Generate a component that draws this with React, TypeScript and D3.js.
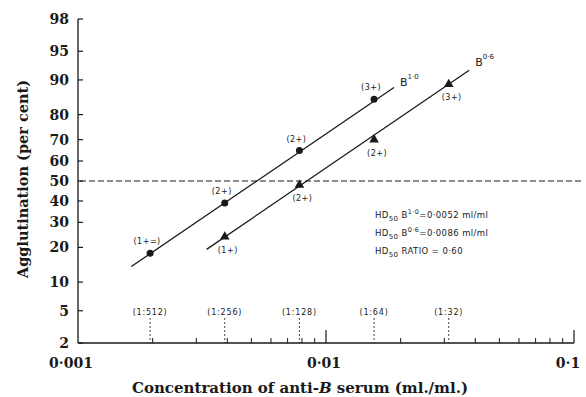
import React from "react";
import * as d3 from "d3";

// agglutination data
const concB10 = [1 / 512, 1 / 256, 1 / 128, 1 / 64];
const pctB10 = [18, 39, 65, 85];
const gradeB10 = ["(1+=)", "(2+)", "(2+)", "(3+)"];
const concB06 = [1 / 256, 1 / 128, 1 / 64, 1 / 32];
const pctB06 = [24, 48, 70, 89];
const gradeB06 = ["(1+)", "(2+)", "(2+)", "(3+)"];
// fitted lines (start, end)
const fitConcB10 = [0.00164, 0.0188];
const fitPctB10 = [13.9, 88.2];
const fitConcB06 = [0.0033, 0.0378];
const fitPctB06 = [19.3, 92];

const yTicks = [2, 5, 10, 20, 30, 40, 50, 60, 70, 80, 90, 95, 98];
const xMajor = [0.001, 0.01, 0.1];
const xMajorLabels = ["0·001", "0·01", "0·1"];
const dilutions = [1 / 512, 1 / 256, 1 / 128, 1 / 64, 1 / 32];
const dilutionLabels = ["(1:512)", "(1:256)", "(1:128)", "(1:64)", "(1:32)"];
const hdLines = [
  { sup: "1·0", rest: "=0·0052 ml/ml", lab: "B" },
  { sup: "0·6", rest: "=0·0086 ml/ml", lab: "B" },
  { sup: "", rest: "RATIO = 0·60", lab: "" },
];

// inverse normal CDF (Acklam), used as the probit axis transform
function probit(p: number) {
  const a = [-39.69683028665376, 220.9460984245205, -275.9285104469687, 138.357751867269, -30.66479806614716, 2.506628277459239];
  const b = [-54.47609879822406, 161.5858368580409, -155.6989798598866, 66.80131188771972, -13.28068155288572];
  const c = [-0.007784894002430293, -0.3223964580411365, -2.400758277161838, -2.549732539343734, 4.374664141464968, 2.938163982698783];
  const d = [0.007784695709041462, 0.3224671290700398, 2.445134137142996, 3.754408661907416];
  const pl = 0.02425;
  let q, r;
  if (p < pl) {
    q = Math.sqrt(-2 * Math.log(p));
    return (((((c[0] * q + c[1]) * q + c[2]) * q + c[3]) * q + c[4]) * q + c[5]) / ((((d[0] * q + d[1]) * q + d[2]) * q + d[3]) * q + 1);
  }
  if (p <= 1 - pl) {
    q = p - 0.5;
    r = q * q;
    return ((((((a[0] * r + a[1]) * r + a[2]) * r + a[3]) * r + a[4]) * r + a[5]) * q) / (((((b[0] * r + b[1]) * r + b[2]) * r + b[3]) * r + b[4]) * r + 1);
  }
  q = Math.sqrt(-2 * Math.log(1 - p));
  return -(((((c[0] * q + c[1]) * q + c[2]) * q + c[3]) * q + c[4]) * q + c[5]) / ((((d[0] * q + d[1]) * q + d[2]) * q + d[3]) * q + 1);
}

const W = 586, H = 397;
const ink = "#1a1a1a";
const serif = "'DejaVu Serif', serif";
const sans = "'DejaVu Sans', sans-serif";
// small nudges so the first/last x labels sit like the print
const xLabelShift = [-7, -2, -6];

const App = () => {
  const x = d3.scaleLog().domain([0.001, 0.1]).range([78, 574]);
  const z = d3.scaleLinear().domain([probit(0.02), probit(0.98)]).range([343, 19]);
  const y = (pct: number) => z(probit(pct / 100));
  const line = d3.line<[number, number]>().x(d => x(d[0])).y(d => y(d[1]));
  const minor = x.ticks().filter(t => !xMajor.some(m => Math.abs(m - t) < 1e-9));
  const tri = d3.symbol(d3.symbolTriangle, 40)();

  return (
    <svg width={W} height={H} style={{ position: "absolute", left: 0, top: 0, background: "#fff" }}>
      {/* axes */}
      <line x1={78} x2={78} y1={y(98)} y2={y(2)} stroke={ink} strokeWidth={1.3} />
      <line x1={78} x2={574} y1={y(2)} y2={y(2)} stroke={ink} strokeWidth={1.3} />
      {yTicks.map(t => (
        <g key={t}>
          <line x1={78} x2={83} y1={y(t)} y2={y(t)} stroke={ink} strokeWidth={1.2} />
          <text x={69} y={y(t)} dy="0.35em" textAnchor="end" fontFamily={serif} fontWeight="bold" fontSize={14} fill={ink}>{t}</text>
        </g>
      ))}
      {minor.map((t, i) => (
        <line key={i} x1={x(t)} x2={x(t)} y1={y(2)} y2={y(2) - 5} stroke={ink} strokeWidth={1} />
      ))}
      {xMajor.map((t, i) => (
        <g key={t}>
          {i > 0 && <line x1={x(t)} x2={x(t)} y1={y(2)} y2={y(2) - 13} stroke={ink} strokeWidth={1.2} />}
          <text x={x(t) + xLabelShift[i]} y={368} textAnchor="middle" fontFamily={serif} fontWeight="bold" fontSize={14} fill={ink}>{xMajorLabels[i]}</text>
        </g>
      ))}
      {dilutions.map((t, i) => (
        <g key={i}>
          <line x1={x(t)} x2={x(t)} y1={318} y2={y(2)} stroke={ink} strokeWidth={0.8} strokeDasharray="2,2" />
          <text x={x(t)} y={315} textAnchor="middle" fontFamily={sans} fontSize={8} letterSpacing={0.8} fill={ink}>{dilutionLabels[i]}</text>
        </g>
      ))}

      {/* 50 per cent line */}
      <line x1={80} x2={584} y1={y(50)} y2={y(50)} stroke={ink} strokeWidth={1.2} strokeDasharray="6,3" />

      {/* fitted lines */}
      <path d={line(fitConcB10.map((c, i) => [c, fitPctB10[i]]) as [number, number][]) || ""} fill="none" stroke={ink} strokeWidth={1.3} />
      <path d={line(fitConcB06.map((c, i) => [c, fitPctB06[i]]) as [number, number][]) || ""} fill="none" stroke={ink} strokeWidth={1.3} />

      {concB10.map((c, i) => (
        <g key={i}>
          <circle cx={x(c)} cy={y(pctB10[i])} r={3.5} fill={ink} />
          <text x={x(c) - 3} y={y(pctB10[i]) - 9} textAnchor="middle" fontFamily={sans} fontSize={8} letterSpacing={0.5} fill={ink}>{gradeB10[i]}</text>
        </g>
      ))}
      {concB06.map((c, i) => (
        <g key={i}>
          <path d={tri || ""} transform={`translate(${x(c)},${y(pctB06[i])})`} fill={ink} />
          <text x={x(c) + 3} y={y(pctB06[i]) + 16} textAnchor="middle" fontFamily={sans} fontSize={8} letterSpacing={0.5} fill={ink}>{gradeB06[i]}</text>
        </g>
      ))}

      {/* line labels */}
      <text x={x(fitConcB10[1]) + 6} y={y(fitPctB10[1]) - 2} fontFamily={sans} fontSize={11} fill={ink}>
        B<tspan dy={-7} fontSize={7}>1·0</tspan>
      </text>
      <text x={x(fitConcB06[1]) + 6} y={y(fitPctB06[1]) - 4} fontFamily={sans} fontSize={11} fill={ink}>
        B<tspan dy={-7} fontSize={7}>0·6</tspan>
      </text>

      {/* HD50 notes */}
      {hdLines.map((h, i) => (
        <text key={i} x={375} y={218 + i * 18} fontFamily={sans} fontSize={8.5} letterSpacing={0.4} fill={ink}>
          HD<tspan dy={3} fontSize={7}>50</tspan>
          <tspan dy={-3}> {h.lab}</tspan>
          {h.sup && <tspan dy={-4} fontSize={6.5}>{h.sup}</tspan>}
          <tspan dy={h.sup ? 4 : 0}>{h.rest}</tspan>
        </text>
      ))}

      {/* titles */}
      <text transform={`translate(28,179) rotate(-90)`} textAnchor="middle" fontFamily={serif} fontWeight="bold" fontSize={14.5} fill={ink}>
        Agglutination (per cent)
      </text>
      <text x={300} y={393} textAnchor="middle" fontFamily={serif} fontWeight="bold" fontSize={15} fill={ink}>
        Concentration of anti-<tspan fontStyle="italic">B</tspan> serum (ml./ml.)
      </text>
    </svg>
  );
};

export default App;
